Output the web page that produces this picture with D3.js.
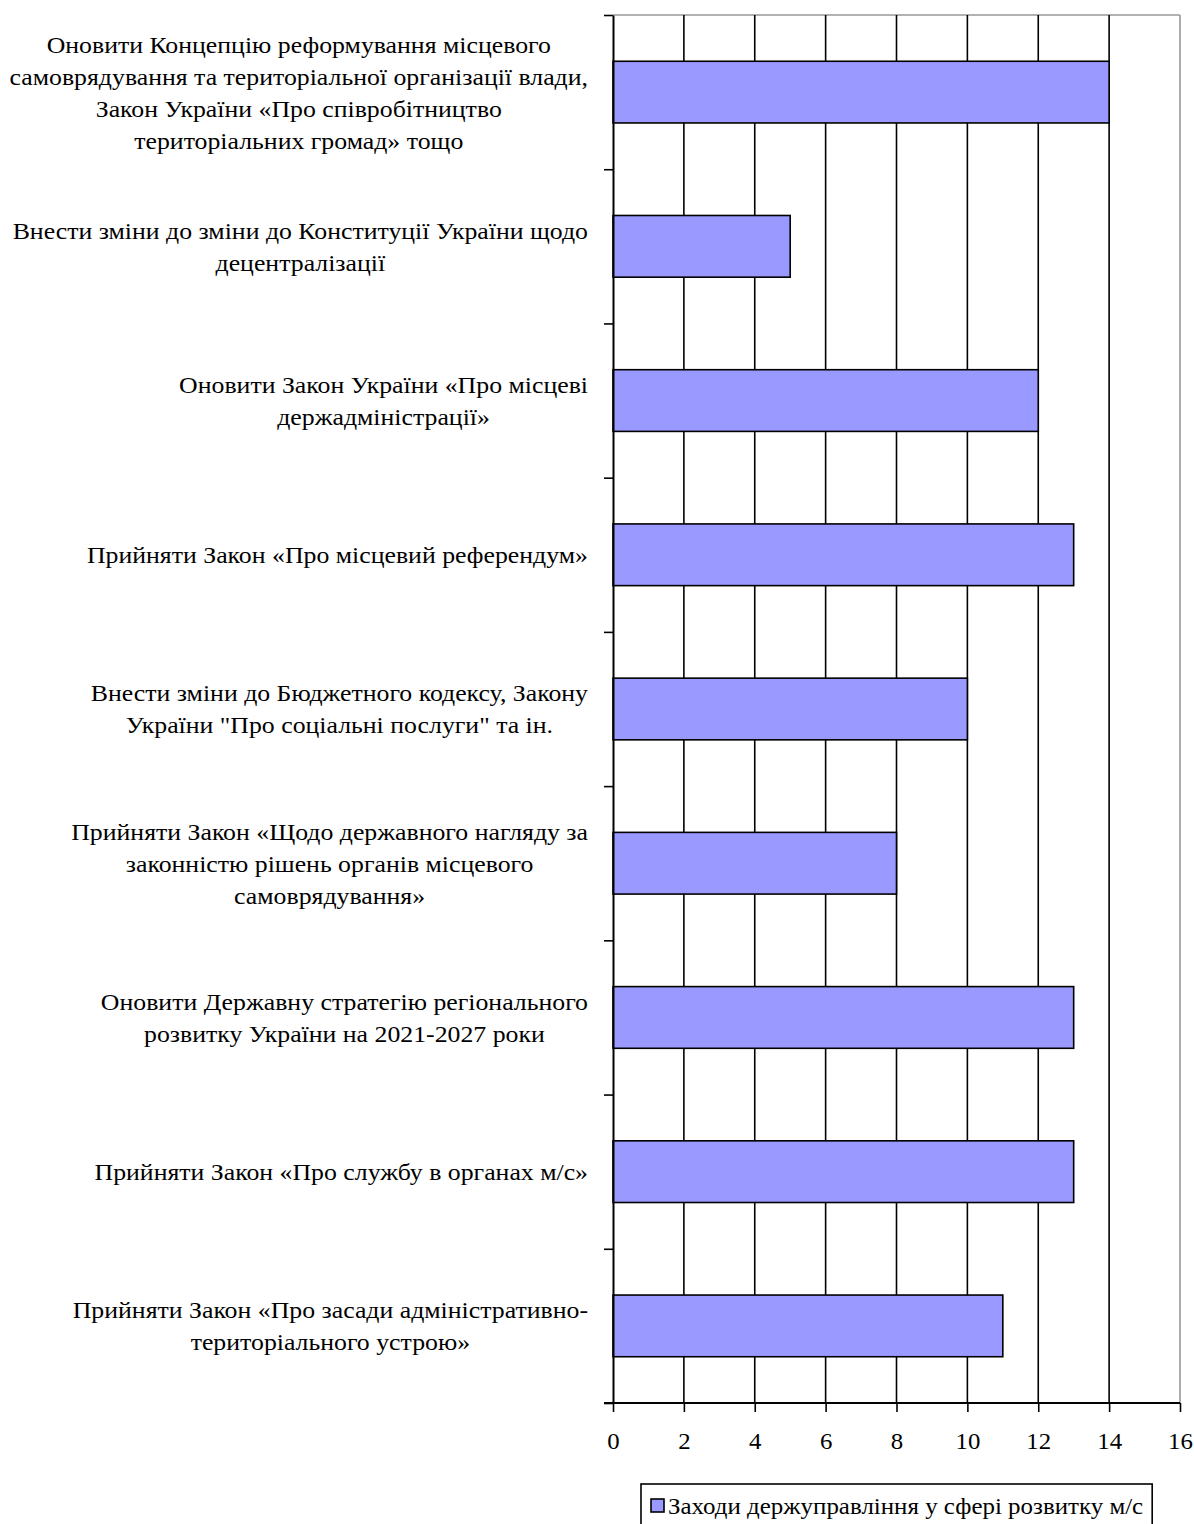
<!DOCTYPE html>
<html>
<head>
<meta charset="utf-8">
<script src="https://cdn.jsdelivr.net/npm/d3@7"></script>
<style>
  html, body { margin: 0; padding: 0; background: #fff; }
  svg { display: block; font-family: "Liberation Serif", "Times New Roman", serif; }
</style>
</head>
<body>
<svg id="chart" width="1194" height="1524"></svg>
<script>
// Measures, top to bottom, each label split into its display lines
const categories = [
  ["Оновити Концепцію реформування місцевого",
   "самоврядування та територіальної організації влади,",
   "Закон України «Про співробітництво",
   "територіальних громад» тощо"],
  ["Внести зміни до зміни до Конституції України щодо",
   "децентралізації"],
  ["Оновити Закон України «Про місцеві",
   "держадміністрації»"],
  ["Прийняти Закон «Про місцевий референдум»"],
  ["Внести зміни до Бюджетного кодексу, Закону",
   "України \"Про соціальні послуги\" та ін."],
  ["Прийняти Закон «Щодо державного нагляду за",
   "законністю рішень органів місцевого",
   "самоврядування»"],
  ["Оновити Державну стратегію регіонального",
   "розвитку України на 2021-2027 роки"],
  ["Прийняти Закон «Про службу в органах м/с»"],
  ["Прийняти Закон «Про засади адміністративно-",
   "територіального устрою»"]
];
const values = [14, 5, 12, 13, 10, 8, 13, 13, 11];
const xTicks = [0, 2, 4, 6, 8, 10, 12, 14, 16];
const seriesName = "Заходи держуправління у сфері розвитку м/с";

const svg = d3.select("#chart");
const plot = { left: 613, right: 1180, top: 15, bottom: 1403 };
// Type is set slightly wide, like the original export
const labelSize = 24, labelStretch = 1.075;
const tickSize = 23, tickStretch = 1.08;
const legendSize = 23, legendStretch = 1.085;
const lineH = 32;
const barFill = "#9999FF";

const keys = categories.map((c, i) => i);
const x = d3.scaleLinear().domain([0, 16]).range([plot.left, plot.right]);
const y = d3.scaleBand().domain(keys).range([plot.top, plot.bottom])
  .paddingInner(0.6).paddingOuter(0.3);
const yEdge = d3.scaleLinear().domain([0, categories.length]).range([plot.top, plot.bottom]);

// Plot frame: grey top and right border
svg.append("line")
  .attr("x1", plot.left).attr("x2", plot.right)
  .attr("y1", plot.top).attr("y2", plot.top)
  .attr("stroke", "#999").attr("stroke-width", 1.6);
svg.append("line")
  .attr("x1", plot.right).attr("x2", plot.right)
  .attr("y1", plot.top).attr("y2", plot.bottom)
  .attr("stroke", "#999").attr("stroke-width", 1.6);

// Vertical gridlines
svg.append("g").selectAll("line")
  .data(xTicks.filter(t => t > 0 && t < 16))
  .join("line")
  .attr("x1", d => x(d)).attr("x2", d => x(d))
  .attr("y1", plot.top).attr("y2", plot.bottom)
  .attr("stroke", "#000").attr("stroke-width", 1.6);

// Bars
svg.append("g").selectAll("rect")
  .data(values)
  .join("rect")
  .attr("x", x(0))
  .attr("y", (d, i) => y(i))
  .attr("width", d => x(d) - x(0))
  .attr("height", y.bandwidth())
  .attr("fill", barFill)
  .attr("stroke", "#000")
  .attr("stroke-width", 1.6);

// X axis
const xAxis = svg.append("g")
  .attr("transform", `translate(0,${plot.bottom})`)
  .call(d3.axisBottom(x).tickValues(xTicks).tickSize(9).tickPadding(21).tickSizeOuter(0));
xAxis.select(".domain").remove();
xAxis.selectAll(".tick line").attr("stroke", "#000").attr("stroke-width", 1.6);
xAxis.selectAll("text")
  .attr("font-family", "Liberation Serif, serif")
  .attr("font-size", tickSize)
  .attr("transform", `scale(${tickStretch},1)`)
  .attr("fill", "#000");
svg.append("line")
  .attr("x1", plot.left - 9).attr("x2", plot.right)
  .attr("y1", plot.bottom).attr("y2", plot.bottom)
  .attr("stroke", "#000").attr("stroke-width", 1.8);

// Y axis with tick marks on category boundaries
const yAxis = svg.append("g")
  .attr("transform", `translate(${plot.left},0)`)
  .call(d3.axisLeft(yEdge).tickValues(d3.range(0, categories.length + 1))
    .tickSize(9).tickFormat("").tickSizeOuter(0));
yAxis.select(".domain").attr("stroke", "#000").attr("stroke-width", 2);
yAxis.selectAll(".tick line").attr("stroke", "#000").attr("stroke-width", 1.6);

// Category labels: block right-aligned to the axis, lines centred within the block
const labelRight = 588;
const labels = svg.append("g")
  .attr("transform", `translate(${labelRight},0) scale(${labelStretch},1)`)
  .attr("font-size", labelSize)
  .attr("fill", "#000");
categories.forEach((lines, i) => {
  const cy = y(i) + y.bandwidth() / 2;
  const t = labels.append("text").attr("text-anchor", "middle");
  const spans = lines.map((ln, j) => t.append("tspan")
    .attr("y", cy + (j - (lines.length - 1) / 2) * lineH)
    .attr("dy", "0.35em")
    .text(ln));
  const maxW = d3.max(spans, s => s.node().getComputedTextLength());
  spans.forEach(s => s.attr("x", -maxW / 2));
});

// Legend
const legX = 668;
const legend = svg.append("g");
const legTextG = legend.append("g")
  .attr("transform", `translate(${legX},0) scale(${legendStretch},1)`);
const legText = legTextG.append("text")
  .attr("x", 0).attr("y", 1506).attr("dy", "0.35em")
  .attr("font-size", legendSize)
  .text(seriesName);
const legW = legText.node().getComputedTextLength() * legendStretch;
legend.insert("rect", "g")
  .attr("x", 641).attr("y", 1484)
  .attr("width", legX - 641 + legW + 9).attr("height", 50)
  .attr("fill", "#fff").attr("stroke", "#000").attr("stroke-width", 1.6);
legend.append("rect")
  .attr("x", 651).attr("y", 1499).attr("width", 13).attr("height", 13)
  .attr("fill", barFill).attr("stroke", "#000").attr("stroke-width", 1.6);
</script>
</body>
</html>
